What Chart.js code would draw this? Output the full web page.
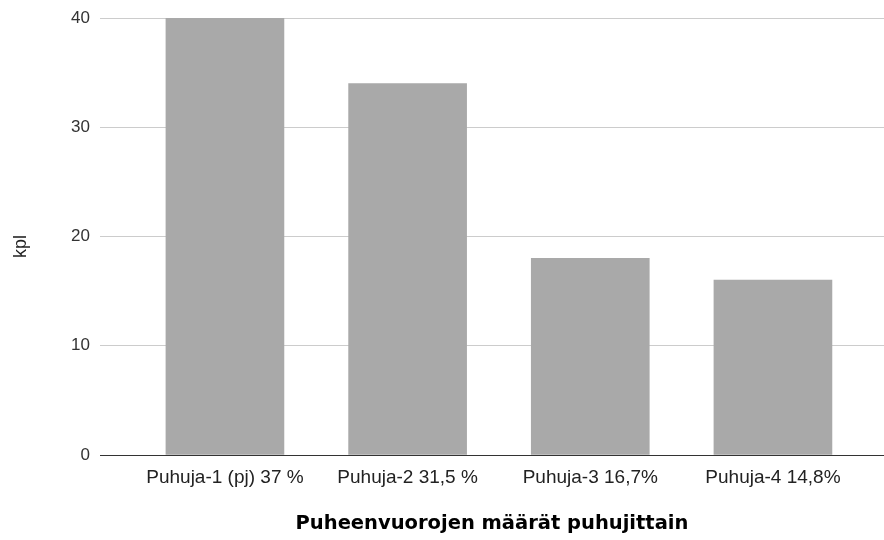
<!DOCTYPE html>
<html>
<head>
<meta charset="utf-8">
<script src="https://cdn.jsdelivr.net/npm/chart.js@4/dist/chart.umd.min.js"></script>
<style>
  html, body { margin: 0; padding: 0; background: #fff; }
  #wrap { width: 884px; height: 540px; }
</style>
</head>
<body>
<div id="wrap"><canvas id="chart" width="884" height="540"></canvas></div>
<script>
// data
const categories = ["Puhuja-1 (pj) 37 %", "Puhuja-2 31,5 %", "Puhuja-3 16,7%", "Puhuja-4 14,8%"];
const counts = [40, 34, 18, 16];
const yTicks = [0, 10, 20, 30, 40];

const ctx = document.getElementById("chart").getContext("2d");

new Chart(ctx, {
  type: "bar",
  data: {
    datasets: [
      {
        label: "kpl",
        data: counts.map((v, i) => ({ x: i, y: v })),
        backgroundColor: "#a9a9a9",
        borderWidth: 0,
        barThickness: 118,
      },
    ],
  },
  options: {
    responsive: false,
    animation: false,
    layout: { padding: { top: 18, right: 0, left: 0, bottom: 0 } },
    plugins: {
      legend: { display: false },
      tooltip: { enabled: false },
    },
    scales: {
      x: {
        type: "linear",
        offset: false,
        min: -0.684,
        max: 3.608,
        grid: { display: false },
        border: { display: false },
        afterBuildTicks: (scale) => {
          scale.ticks = categories.map((c, i) => ({ value: i }));
        },
        afterFit: (scale) => {
          scale.height = 85;
        },
        ticks: {
          autoSkip: false,
          maxRotation: 0,
          padding: 3,
          color: "#222",
          font: { family: "Liberation Sans", size: 19 },
          callback: (v) => categories[v],
        },
        title: {
          display: true,
          text: "Puheenvuorojen määrät puhujittain",
          color: "#000",
          font: { family: "DejaVu Sans", size: 19.5, weight: "bold" },
          padding: { top: 0, bottom: 4 },
        },
      },
      y: {
        min: 0,
        max: 40,
        afterBuildTicks: (scale) => {
          scale.ticks = yTicks.map((v) => ({ value: v }));
        },
        afterFit: (scale) => {
          scale.width = 100;
          scale.paddingTop = 0;
          scale.paddingBottom = 0;
        },
        grid: {
          drawTicks: false,
          color: (c) => (c.tick && c.tick.value === 0 ? "#333" : "#ccc"),
          lineWidth: 1,
        },
        border: { display: false },
        ticks: {
          padding: 10,
          color: "#333",
          font: { family: "Liberation Sans", size: 17 },
        },
        title: {
          display: true,
          text: "kpl    ",
          color: "#222",
          font: { family: "Liberation Sans", size: 18 },
          padding: { top: 10, bottom: 0 },
        },
      },
    },
  },
});
</script>
</body>
</html>
